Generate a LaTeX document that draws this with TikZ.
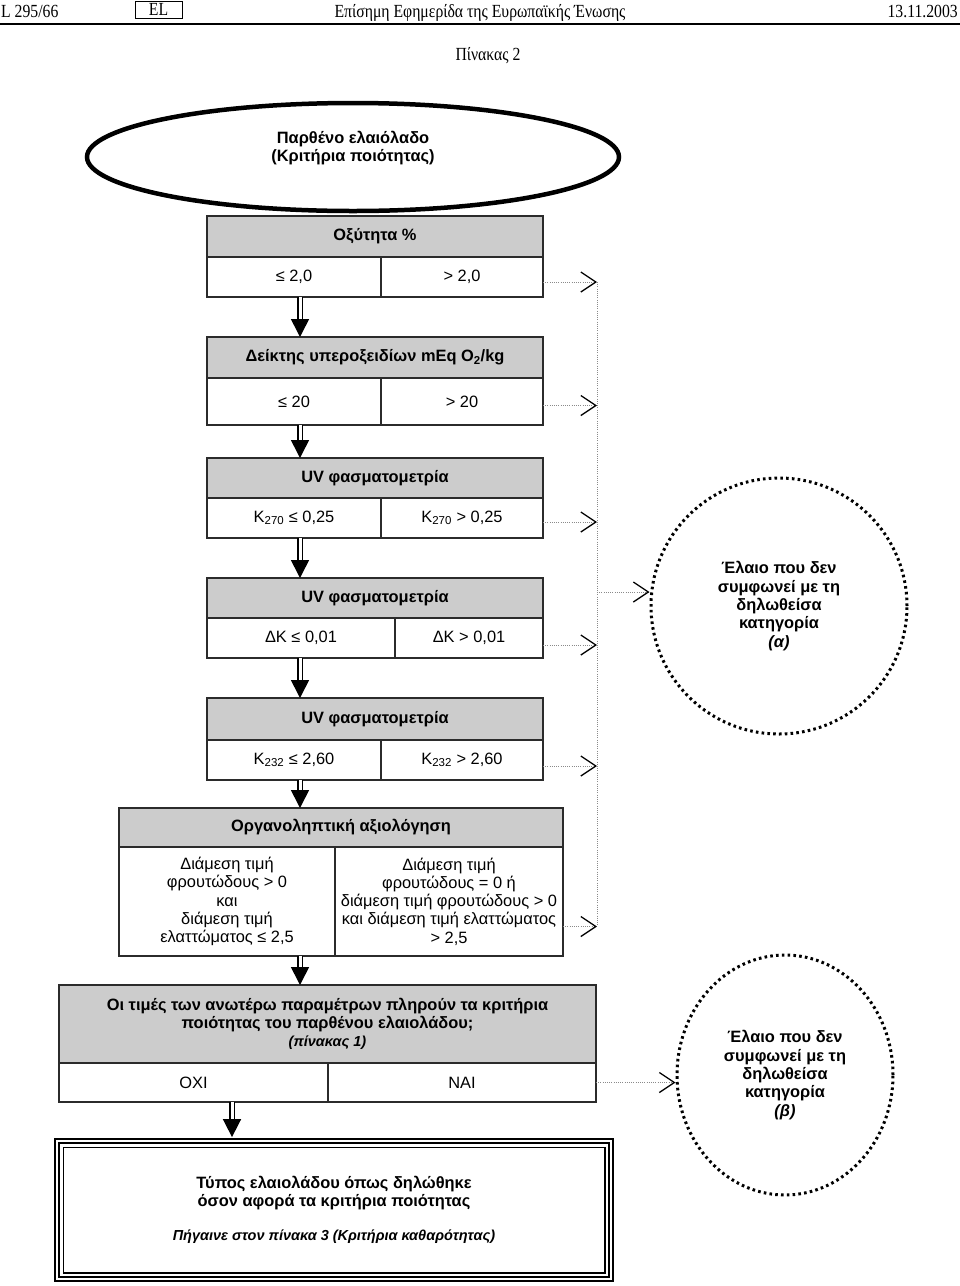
\documentclass[tikz,border=0pt]{standalone}
\usepackage{fontspec}
\setmainfont{Liberation Sans}
\newfontfamily\ojfont[FakeStretch=0.85]{Liberation Serif}
\usepackage{tikz}
\usetikzlibrary{arrows.meta,positioning,shapes.geometric,calc}
\definecolor{headgray}{HTML}{CCCCCC}
\definecolor{boxborder}{HTML}{2B2B2B}
\definecolor{linkgray}{HTML}{8A8A8A}

\begin{document}
\begin{tikzpicture}[x=1pt,y=-1pt,>=Latex,font=\fontsize{16.4}{18.3}\selectfont]
\tikzstyle{ojtext}=[inner sep=0pt,font=\ojfont\fontsize{18.5}{19}\selectfont]
\tikzstyle{head}=[draw=boxborder,line width=1.6pt,fill=headgray,align=center,inner sep=0pt,outer sep=0pt,font=\fontsize{16.4}{18.3}\selectfont\bfseries]
\tikzstyle{cell}=[draw=boxborder,line width=1.6pt,fill=white,align=center,inner sep=0pt,outer sep=0pt,minimum height=40pt]
\tikzstyle{down}=[double=white,double distance=3pt,line width=1.6pt,-{Triangle[length=18pt,width=18pt]}]
\tikzstyle{link}=[linkgray,line width=1pt,dash pattern=on 1pt off 1.2pt,-{Straight Barb[length=15pt,width=20pt,line width=1.3pt,color=black]}]
\tikzstyle{bus}=[linkgray,line width=1pt,dash pattern=on 1pt off 1.2pt]
\tikzstyle{reject}=[ellipse,draw,line width=3pt,dash pattern=on 2.6pt off 3.2pt,align=center,inner sep=0pt,font=\fontsize{16.4}{18.3}\selectfont\bfseries]
\useasboundingbox (0,0) rectangle (960,1286);
\node[ojtext,anchor=base west] (page) at (1,17) {L 295/66};
\node[draw,line width=1pt,minimum width=47pt,minimum height=17pt,ojtext] (lang) at (158.5,9.5) {EL};
\node[ojtext,anchor=base] (journal) at (480,17) {Επίσημη Εφημερίδα της Ευρωπαϊκής Ένωσης};
\node[ojtext,anchor=base east] (date) at (958,17) {13.11.2003};
\draw[line width=1.5pt] (0,24) -- (960,24);
\node[ojtext,anchor=base] (table) at (488,60) {Πίνακας 2};
\node[ellipse,draw,line width=4.5pt,minimum width=532pt,minimum height=108pt,
  label={[yshift=9pt,align=center,font=\fontsize{16.4}{18.3}\selectfont\bfseries]center:Παρθένο ελαιόλαδο\\(Κριτήρια ποιότητας)}] (start) at (353,157) {};
\node[head,minimum width=336pt,minimum height=41pt] (h1) at (375,236.5) {Οξύτητα \%};
\node[cell,minimum width=174pt,below right=0pt of h1.south west] (l1) {≤ 2,0};
\node[cell,minimum width=162pt,right=0pt of l1] (r1) {> 2,0};
\node[head,minimum width=336pt,minimum height=41pt] (h2) at (375,357.5) {Δείκτης υπεροξειδίων mEq O\textsubscript{2}/kg};
\node[cell,minimum width=174pt,minimum height=47pt,below right=0pt of h2.south west] (l2) {≤ 20};
\node[cell,minimum width=162pt,minimum height=47pt,right=0pt of l2] (r2) {> 20};
\node[head,minimum width=336pt,minimum height=40pt] (h3) at (375,478) {UV φασματομετρία};
\node[cell,minimum width=174pt,below right=0pt of h3.south west] (l3) {K\textsubscript{270} ≤ 0,25};
\node[cell,minimum width=162pt,right=0pt of l3] (r3) {K\textsubscript{270} > 0,25};
\node[head,minimum width=336pt,minimum height=40pt] (h4) at (375,598) {UV φασματομετρία};
\node[cell,minimum width=188pt,below right=0pt of h4.south west] (l4) {ΔK ≤ 0,01};
\node[cell,minimum width=148pt,right=0pt of l4] (r4) {ΔK > 0,01};
\node[head,minimum width=336pt,minimum height=42pt] (h5) at (375,719) {UV φασματομετρία};
\node[cell,minimum width=174pt,below right=0pt of h5.south west] (l5) {K\textsubscript{232} ≤ 2,60};
\node[cell,minimum width=162pt,right=0pt of l5] (r5) {K\textsubscript{232} > 2,60};
\node[head,minimum width=444pt,minimum height=39pt] (h6) at (341,827.5) {Οργανοληπτική αξιολόγηση};
\node[cell,minimum width=216pt,minimum height=109pt,below right=0pt of h6.south west] (l6) {Διάμεση τιμή\\φρουτώδους > 0\\και\\διάμεση τιμή\\ελαττώματος ≤ 2,5};
\node[cell,minimum width=228pt,minimum height=109pt,right=0pt of l6] (r6) {Διάμεση τιμή\\φρουτώδους = 0 ή\\διάμεση τιμή φρουτώδους > 0\\και διάμεση τιμή ελαττώματος\\> 2,5};
\node[head,minimum width=537pt,minimum height=78pt] (h7) at (327.5,1024) {Οι τιμές των ανωτέρω παραμέτρων πληρούν τα κριτήρια\\ποιότητας του παρθένου ελαιολάδου;\\{\fontsize{14.5}{18}\selectfont\itshape (πίνακας 1)}};
\node[cell,minimum width=269pt,minimum height=39pt,below right=0pt of h7.south west] (l7) {ΟΧΙ};
\node[cell,minimum width=268pt,minimum height=39pt,right=0pt of l7] (r7) {ΝΑΙ};
\node[draw,line width=1.8pt,double,double distance=2.2pt,minimum width=554pt,minimum height=138pt,align=center,font=\fontsize{16.4}{18.3}\selectfont\bfseries] (final) at (334,1210) {Τύπος ελαιολάδου όπως δηλώθηκε\\όσον αφορά τα κριτήρια ποιότητας\\[16pt]{\fontsize{14.5}{18}\selectfont\itshape Πήγαινε στον πίνακα 3 (Κριτήρια καθαρότητας)}};
\draw[line width=1.2pt] ([xshift=7pt,yshift=-7pt]final.north west) rectangle ([xshift=-7pt,yshift=7pt]final.south east);
\node[reject,minimum width=256pt,minimum height=256pt] (alpha) at (779,606) {Έλαιο που δεν\\συμφωνεί με τη\\δηλωθείσα\\κατηγορία\\{\itshape (α)}};
\node[reject,minimum width=216pt,minimum height=240pt] (beta) at (785,1075) {Έλαιο που δεν\\συμφωνεί με τη\\δηλωθείσα\\κατηγορία\\{\itshape (β)}};
\coordinate (spine) at (300,0);
\coordinate (spine2) at (232,0);
\coordinate (bus) at (597,0);
\draw[down] (l1.south -| spine) -- (h2.north -| spine);
\draw[down] (l2.south -| spine) -- (h3.north -| spine);
\draw[down] (l3.south -| spine) -- (h4.north -| spine);
\draw[down] (l4.south -| spine) -- (h5.north -| spine);
\draw[down] (l5.south -| spine) -- (h6.north -| spine);
\draw[down] (l6.south -| spine) -- (h7.north -| spine);
\draw[down] (l7.south -| spine2) -- ([yshift=3pt]final.north -| spine2);
\draw[link] ([yshift=-5pt]r1.east) -- ([yshift=-5pt]r1.east -| bus);
\draw[link] ([yshift=-4pt]r2.east) -- ([yshift=-4pt]r2.east -| bus);
\draw[link] ([yshift=-4pt]r3.east) -- ([yshift=-4pt]r3.east -| bus);
\draw[link] ([yshift=-7pt]r4.east) -- ([yshift=-7pt]r4.east -| bus);
\draw[link] ([yshift=-6pt]r5.east) -- ([yshift=-6pt]r5.east -| bus);
\draw[link] ([yshift=-25pt]r6.east) -- ([yshift=-25pt]r6.east -| bus);
\draw[bus] ([yshift=-5pt]r1.east -| bus) -- ([yshift=-25pt]r6.east -| bus);
\draw[link] ([yshift=14pt]alpha.west -| bus) -- ([yshift=14pt]alpha.west);
\draw[link] (r7.east) -- (r7.east -| beta.west);
\end{tikzpicture}
\end{document}
